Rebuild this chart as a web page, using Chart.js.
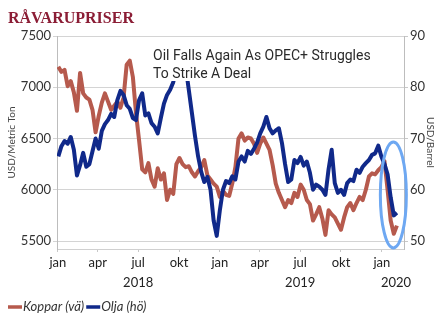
<!DOCTYPE html>
<html><head><meta charset="utf-8">
<script src="https://cdn.jsdelivr.net/npm/chart.js@4"></script>
<style>html,body{margin:0;padding:0;background:#fff;}canvas{display:block;}</style>
</head><body>
<canvas id="c" width="446" height="326"></canvas>
<script>
// Weekly values, from 2 Jan 2018 to early Feb 2020
const copper = [7200,7150,7170,7010,7060,6950,6770,7140,6940,6900,
  6880,6780,6560,6720,6850,6940,6860,6780,6820,6860,
  6800,6900,7220,7260,7100,6750,6480,6200,6170,6260,
  6100,6030,6210,6100,6160,5900,6000,5960,6250,6310,
  6250,6220,6230,6170,6130,6180,6220,6290,6140,6100,
  6060,6030,5930,5990,5950,5940,6060,6220,6500,6550,
  6480,6510,6500,6450,6360,6450,6510,6450,6390,6240,
  6060,5970,5900,5830,5900,5870,5970,5930,6050,6000,
  5900,5860,5700,5760,5830,5720,5560,5800,5760,5730,
  5670,5610,5730,5830,5870,5800,5870,5930,5900,6000,
  6130,6160,6150,6190,6220,6280,6000,5700,5570,5650];
const oil = [66.5,68.5,69.5,69.0,70.3,67.8,62.8,64.8,67.2,64.5,
  65.0,67.5,70.0,68.0,71.5,72.8,73.6,74.8,74.2,77.5,
  79.3,78.5,76.5,75.8,74.0,73.6,77.5,78.8,74.5,74.9,
  73.0,72.3,71.0,74.0,76.8,78.5,79.5,81.0,83.5,86.0,
  85.0,84.0,79.5,75.0,70.5,66.5,63.5,61.5,62.5,60.0,
  54.0,51.0,56.0,60.0,61.7,61.3,62.6,62.0,65.5,66.5,
  65.5,67.6,67.0,68.0,69.2,71.0,72.3,74.2,72.0,71.0,
  71.6,72.0,69.1,65.0,61.5,62.0,65.8,65.2,66.4,64.7,
  65.5,63.3,60.0,61.0,60.6,60.0,59.0,64.0,67.8,61.3,
  59.4,60.0,59.0,61.3,62.0,61.7,63.9,63.3,64.5,65.2,
  65.8,66.8,67.1,68.6,66.5,65.0,63.0,58.5,55.0,55.5];
const startDay = 1, stepDays = 7; // days since 1 Jan 2018
const tickDays = [0,90,181,273,365,455,546,638,730];
const tickLabels = ['jan','apr','jul','okt','jan','apr','jul','okt','jan'];
const yearLabels = ['2018','2019','2020'];
const yearDays = [181,546,762];
const copperTicks = [5500,6000,6500,7000,7500];
const oilTicks = [50,60,70,80,90];
const seriesNames = ['Koppar (vä)','Olja (hö)'];
const chartTitle = 'RÅVARUPRISER';
const noteLines = ['Oil Falls Again As OPEC+ Struggles','To Strike A Deal'];
const leftTitle = 'USD/Metric Ton', rightTitle = 'USD/Barrel';

const RED = '#b65a4d', BLUE = '#10298a';
const pts = arr => arr.map((v,i)=>({x:startDay+i*stepDays, y:v}));

const decor = {
  id:'decor',
  afterDatasetsDraw(chart){
    const ctx = chart.ctx, xs = chart.scales.x, ys = chart.scales.y;
    ctx.save();
    // note with white background
    ctx.fillStyle = '#fff';
    ctx.fillRect(148, 39, 250, 42);
    ctx.fillStyle = '#2a2a2a';
    ctx.font = '14px Roboto';
    ctx.textBaseline = 'alphabetic';
    ctx.textAlign = 'left';
    ctx.fillText(noteLines[0], 153, 60);
    ctx.fillText(noteLines[1], 153, 78);
    // highlight ellipse
    ctx.strokeStyle = '#6ea8f2';
    ctx.lineWidth = 3;
    ctx.beginPath();
    ctx.ellipse(xs.getPixelForValue(756), ys.getPixelForValue(5950), 13, 53, 0, 0, Math.PI*2);
    ctx.stroke();
    ctx.restore();
  },
  afterDraw(chart){
    const ctx = chart.ctx, xs = chart.scales.x;
    ctx.save();
    // title
    ctx.fillStyle = '#8b1d35';
    ctx.font = 'bold 16px "Liberation Serif"';
    ctx.textBaseline = 'alphabetic';
    ctx.textAlign = 'left';
    ctx.fillText(chartTitle, 8, 23);
    // years
    ctx.fillStyle = '#222';
    ctx.font = '13px Lato';
    ctx.textAlign = 'center';
    ctx.textBaseline = 'middle';
    yearLabels.forEach((t,i)=>ctx.fillText(t, xs.getPixelForValue(yearDays[i]), 283));
    // legend
    ctx.font = 'italic 13px Lato';
    ctx.textAlign = 'left';
    ctx.fillStyle = '#333';
    let x = 8; const ly = 307;
    [[RED, seriesNames[0]],[BLUE, seriesNames[1]]].forEach(([c,t])=>{
      ctx.strokeStyle = c; ctx.lineWidth = 3.5;
      ctx.beginPath(); ctx.moveTo(x, ly); ctx.lineTo(x+14, ly); ctx.stroke();
      x += 15;
      ctx.fillText(t, x, ly);
      x += ctx.measureText(t).width + 2;
    });
    ctx.restore();
  }
};

new Chart(document.getElementById('c'), {
  type:'line',
  data:{datasets:[
    {label:seriesNames[1], data:pts(oil), yAxisID:'y1', borderColor:BLUE, borderWidth:4, pointRadius:0, tension:0, order:0, borderJoinStyle:'round'},
    {label:seriesNames[0], data:pts(copper), yAxisID:'y', borderColor:RED, borderWidth:4, pointRadius:0, tension:0, order:1, borderJoinStyle:'round'}
  ]},
  options:{
    responsive:false, animation:false, devicePixelRatio:1,
    layout:{padding:{top:36,left:0,right:0,bottom:0}},
    plugins:{legend:{display:false}, tooltip:{enabled:false}},
    scales:{
      x:{type:'linear', min:-2, max:780,
        afterBuildTicks:s=>{s.ticks = tickDays.map(v=>({value:v}));},
        ticks:{callback:(v,i)=>tickLabels[i], autoSkip:false, maxRotation:0, minRotation:0, font:{family:'Lato',size:13}, color:'#222', padding:3},
        grid:{drawOnChartArea:false, drawTicks:true, tickLength:3, color:'#c8c8c8'},
        border:{color:'#d0d0d0'},
        afterFit:s=>{s.height = 77;}},
      y:{position:'left', min:5422, max:7500,
        afterBuildTicks:s=>{s.ticks = copperTicks.map(v=>({value:v}));},
        ticks:{callback:v=>String(v), font:{family:'Lato',size:13}, color:'#333', padding:2},
        grid:{color:'#d4d4d4', tickLength:4},
        border:{color:'#bdbdbd'},
        title:{display:true, text:leftTitle, font:{family:'Lato',size:10}, color:'#444', padding:{top:6,bottom:0}},
        afterFit:s=>{s.width = 57;}},
      y1:{position:'right', min:48.44, max:90,
        afterBuildTicks:s=>{s.ticks = oilTicks.map(v=>({value:v}));},
        ticks:{callback:v=>String(v), font:{family:'Lato',size:13}, color:'#333', padding:2},
        grid:{drawOnChartArea:false, tickLength:4, color:'#c8c8c8'},
        border:{color:'#bdbdbd'},
        title:{display:true, text:rightTitle, font:{family:'Lato',size:10}, color:'#444', padding:{top:10,bottom:0}},
        afterFit:s=>{s.width = 42;}}
    }
  },
  plugins:[decor]
});
</script>
</body></html>
